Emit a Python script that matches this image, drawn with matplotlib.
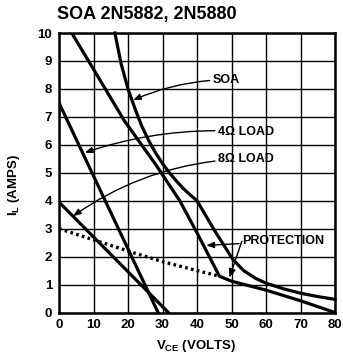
import matplotlib
matplotlib.use("Agg")
import matplotlib.pyplot as plt
import numpy as np

plt.rcParams['font.family'] = ['Liberation Sans', 'DejaVu Sans']

# ---- data ----
title = "SOA 2N5882, 2N5880"
x_ticks = [0, 10, 20, 30, 40, 50, 60, 70, 80]
y_ticks = [0, 1, 2, 3, 4, 5, 6, 7, 8, 9, 10]

soa_v = [16.2, 18, 20, 22, 24, 26, 28, 30, 32, 34, 36, 38, 40, 45, 50.4, 53.5, 57, 60, 65, 70, 75, 80]
soa_i = [10.0, 8.9, 8.0, 7.3, 6.67, 6.15, 5.71, 5.33, 5.0, 4.71, 4.44, 4.21, 4.0, 2.95, 1.9, 1.5, 1.22, 1.05, 0.85, 0.69, 0.57, 0.47]

load4_v = [0, 28.7]
load4_i = [7.5, 0]

load8_v = [0, 31.7]
load8_i = [3.95, 0]

prot_v = [3.7, 19, 28, 35, 40, 46.5, 50, 60, 70, 80]
prot_i = [10.0, 6.85, 5.3, 4.0, 2.85, 1.3, 1.12, 0.8, 0.42, 0.0]

protdot_v = [0, 10, 20, 30, 40, 46.5]
protdot_i = [3.0, 2.6, 2.2, 1.82, 1.5, 1.3]

fig = plt.figure(figsize=(3.43, 3.55), dpi=100)
ax = fig.add_axes([59/343, 1-312.5/355, (335-59)/343, (312.5-33)/355])

ax.set_xlim(0, 80)
ax.set_ylim(0, 10)
ax.set_xticks(x_ticks)
ax.set_yticks(y_ticks)
ax.grid(True, color='black', lw=1.0)
ax.tick_params(length=0, pad=5, labelsize=9.5)
for lab in ax.get_xticklabels() + ax.get_yticklabels():
    lab.set_fontweight('bold')
for s in ax.spines.values():
    s.set_linewidth(1.8)

lw = 2.3
ax.plot(soa_v, soa_i, color='black', lw=lw, solid_joinstyle='miter', clip_on=False)
ax.plot(load4_v, load4_i, color='black', lw=lw)
ax.plot(load8_v, load8_i, color='black', lw=lw)
ax.plot(prot_v, prot_i, color='black', lw=lw, solid_joinstyle='miter')
ax.plot(protdot_v, protdot_i, color='black', lw=2.4, linestyle=(0, (0.8, 1.0)))

fs = 9
ap = dict(arrowstyle='-|>,head_length=0.5,head_width=0.2', color='black', lw=1.0,
          shrinkA=0, shrinkB=0)
ax.annotate('SOA', xy=(21.5, 7.6), xytext=(44.5, 8.33), fontsize=fs, fontweight='bold',
            va='center', ha='left',
            arrowprops=dict(ap, connectionstyle='arc3,rad=0.1'))
ax.annotate('4\u03a9 LOAD', xy=(7.5, 5.72), xytext=(46, 6.47), fontsize=fs, fontweight='bold',
            va='center', ha='left',
            arrowprops=dict(ap, connectionstyle='arc3,rad=0.1'))
ax.annotate('8\u03a9 LOAD', xy=(4.1, 3.45), xytext=(46, 5.5), fontsize=fs, fontweight='bold',
            va='center', ha='left',
            arrowprops=dict(ap, connectionstyle='arc3,rad=0.15'))
ax.annotate('PROTECTION', xy=(42.7, 2.4), xytext=(53, 2.55), fontsize=fs, fontweight='bold',
            va='center', ha='left',
            arrowprops=dict(ap, connectionstyle='arc3,rad=0.0'))
ax.annotate('', xy=(49.4, 1.25), xytext=(53, 2.55),
            arrowprops=dict(ap, connectionstyle='arc3,rad=0.0'))

fig.text(57/343, 1-15/355, title, fontsize=13, fontweight='bold', ha='left', va='center')
fig.text(14/343, 1-185/355, 'I$_\\mathregular{L}$ (AMPS)', fontsize=9.5, fontweight='bold',
         rotation=90, ha='center', va='center')
fig.text(196/343, 1-346/355, 'V$_\\mathregular{CE}$ (VOLTS)', fontsize=9.5, fontweight='bold',
         ha='center', va='center')

fig.savefig('out.png', dpi=100)
